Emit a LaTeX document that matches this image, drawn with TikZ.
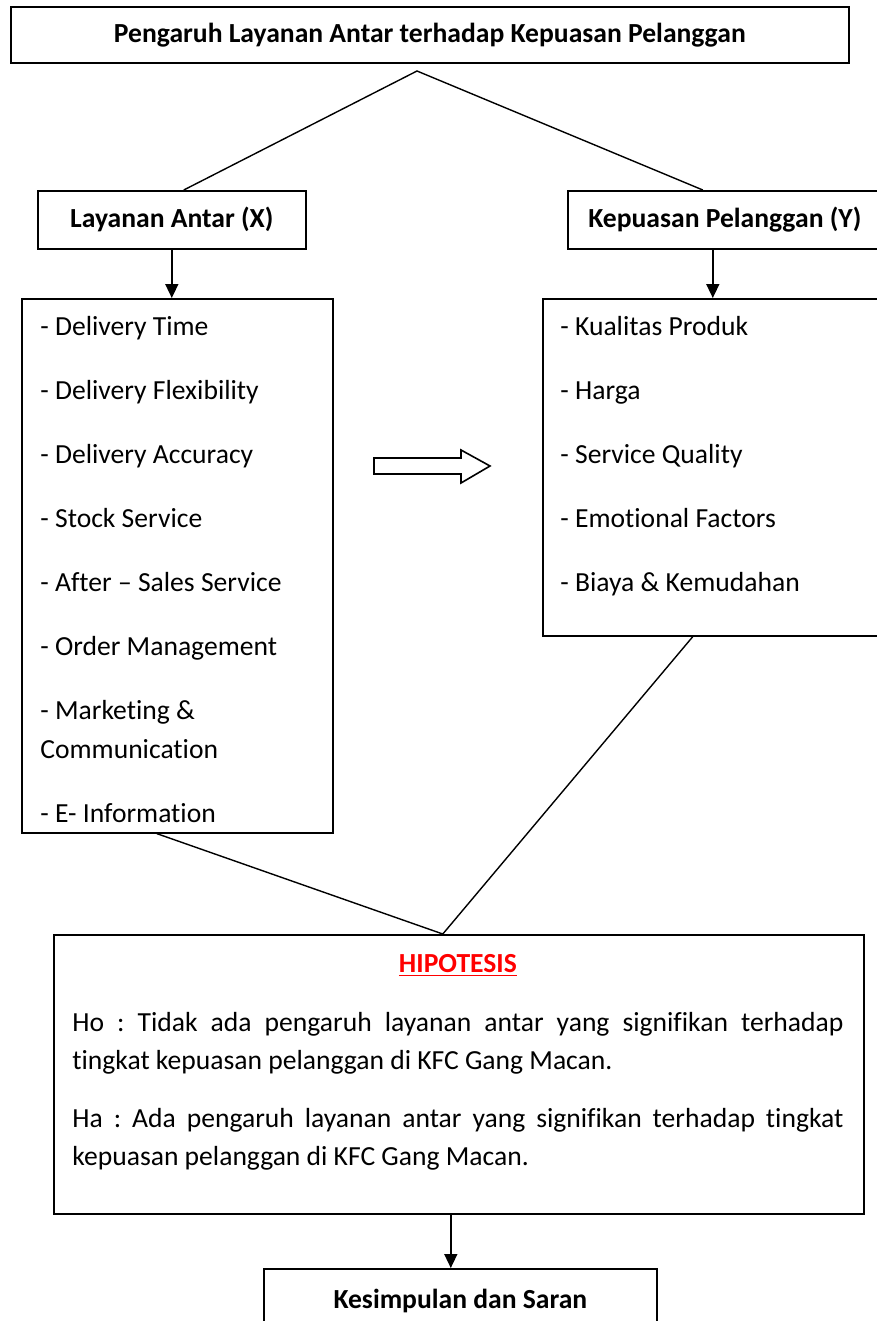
\documentclass[tikz,border=0pt]{standalone}
\usepackage{fontspec}
\setmainfont{Carlito}[Ligatures=NoCommon]
\usepackage{tikz}
\usetikzlibrary{arrows.meta, positioning, calc}
\definecolor{merah}{RGB}{255, 0, 0}
\setlength{\parindent}{0pt}
\frenchspacing

\tikzset{
  kotak/.style={draw, line width=0.8pt, inner sep=0pt, anchor=north west},
  isi/.style={inner sep=0pt, anchor=north west, align=left,
    font=\fontsize{13.8}{19.5}\selectfont},
  panah/.style={line width=0.8pt, -{Triangle[length=7pt, width=6.5pt]}},
  garis/.style={line width=0.7pt}
}

\begin{document}
\begin{tikzpicture}[x=0.5pt, y=-0.5pt, font=\fontsize{13.8}{19.5}\selectfont]
  \useasboundingbox (0,0) rectangle (877,1321);
  \clip (0,0) rectangle (877,1321);

  % kotak-kotak utama
  \node[kotak, minimum width=419pt, minimum height=28pt, font=\fontsize{13.8}{19.5}\bfseries] (judul) at (10,6)
    {Pengaruh Layanan Antar terhadap Kepuasan Pelanggan};
  \node[kotak, minimum width=134pt, minimum height=29pt, font=\fontsize{13.8}{19.5}\bfseries] (layanan) at (37,190)
    {Layanan Antar (X)};
  \node[kotak, minimum width=157pt, minimum height=29pt, font=\fontsize{13.8}{19.5}\bfseries] (kepuasan) at (567,190)
    {Kepuasan Pelanggan (Y)};
  \node[kotak, minimum width=155.5pt, minimum height=267pt] (listx) at (21,298) {};
  \node[kotak, minimum width=170pt, minimum height=168.5pt] (listy) at (542,298) {};
  \node[kotak, minimum width=405pt, minimum height=139.5pt] (hipo) at (53,934) {};
  \node[kotak, minimum width=196.5pt, minimum height=32pt, font=\fontsize{13.8}{19.5}\bfseries] (simpulan) at (263,1268)
    {Kesimpulan dan Saran};

  % isi indikator
  \node[isi] (teksx) at ([xshift=9.5pt, yshift=-9pt]listx.north west) {
    - Delivery Time\\[12.5pt]
    - Delivery Flexibility\\[12.5pt]
    - Delivery Accuracy\\[12.5pt]
    - Stock Service\\[12.5pt]
    - After -- Sales Service\\[12.5pt]
    - Order Management\\[12.5pt]
    - Marketing \&\\
    Communication\\[12.5pt]
    - E- Information};
  \node[isi] (teksy) at ([xshift=9pt, yshift=-9pt]listy.north west) {
    - Kualitas Produk\\[12.5pt]
    - Harga\\[12.5pt]
    - Service Quality\\[12.5pt]
    - Emotional Factors\\[12.5pt]
    - Biaya \& Kemudahan};

  % hipotesis
  \node[isi, text width=385.5pt, align=justify, font=\fontsize{13.8}{19}\selectfont] (tekshipo)
    at ([xshift=9.5pt, yshift=-10pt]hipo.north west) {
    {\centering\textcolor{merah}{\textbf{\underline{HIPOTESIS}}}\par}
    \vspace{10.5pt}
    Ho : Tidak ada pengaruh layanan antar yang signifikan terhadap\linebreak
    tingkat kepuasan pelanggan di KFC Gang Macan.\par
    \vspace{10pt}
    Ha : Ada pengaruh layanan antar yang signifikan terhadap tingkat\linebreak
    kepuasan pelanggan di KFC Gang Macan.\par};

  % penghubung
  \coordinate (puncak) at (417,71);
  \coordinate (temu) at ([xshift=-8pt]hipo.north);
  \draw[garis] ([xshift=6pt]layanan.north) -- (puncak) -- ([xshift=-11pt]kepuasan.north);
  \draw[panah] (layanan.south) -- (layanan.south |- listx.north);
  \draw[panah] (kepuasan.south -| listy.north) -- (listy.north);
  \draw[garis] ([xshift=-10.25pt]listx.south) -- (temu) -- ([xshift=-10pt]listy.south);
  \draw[panah] ([xshift=-4pt]hipo.south) -- ([xshift=-4pt]hipo.south |- simpulan.north);

  % panah blok
  \draw[line width=0.8pt] (374,458) -- (461,458) -- (461,450) -- (490,466)
    -- (461,483) -- (461,474) -- (374,474) -- cycle;
\end{tikzpicture}
\end{document}
